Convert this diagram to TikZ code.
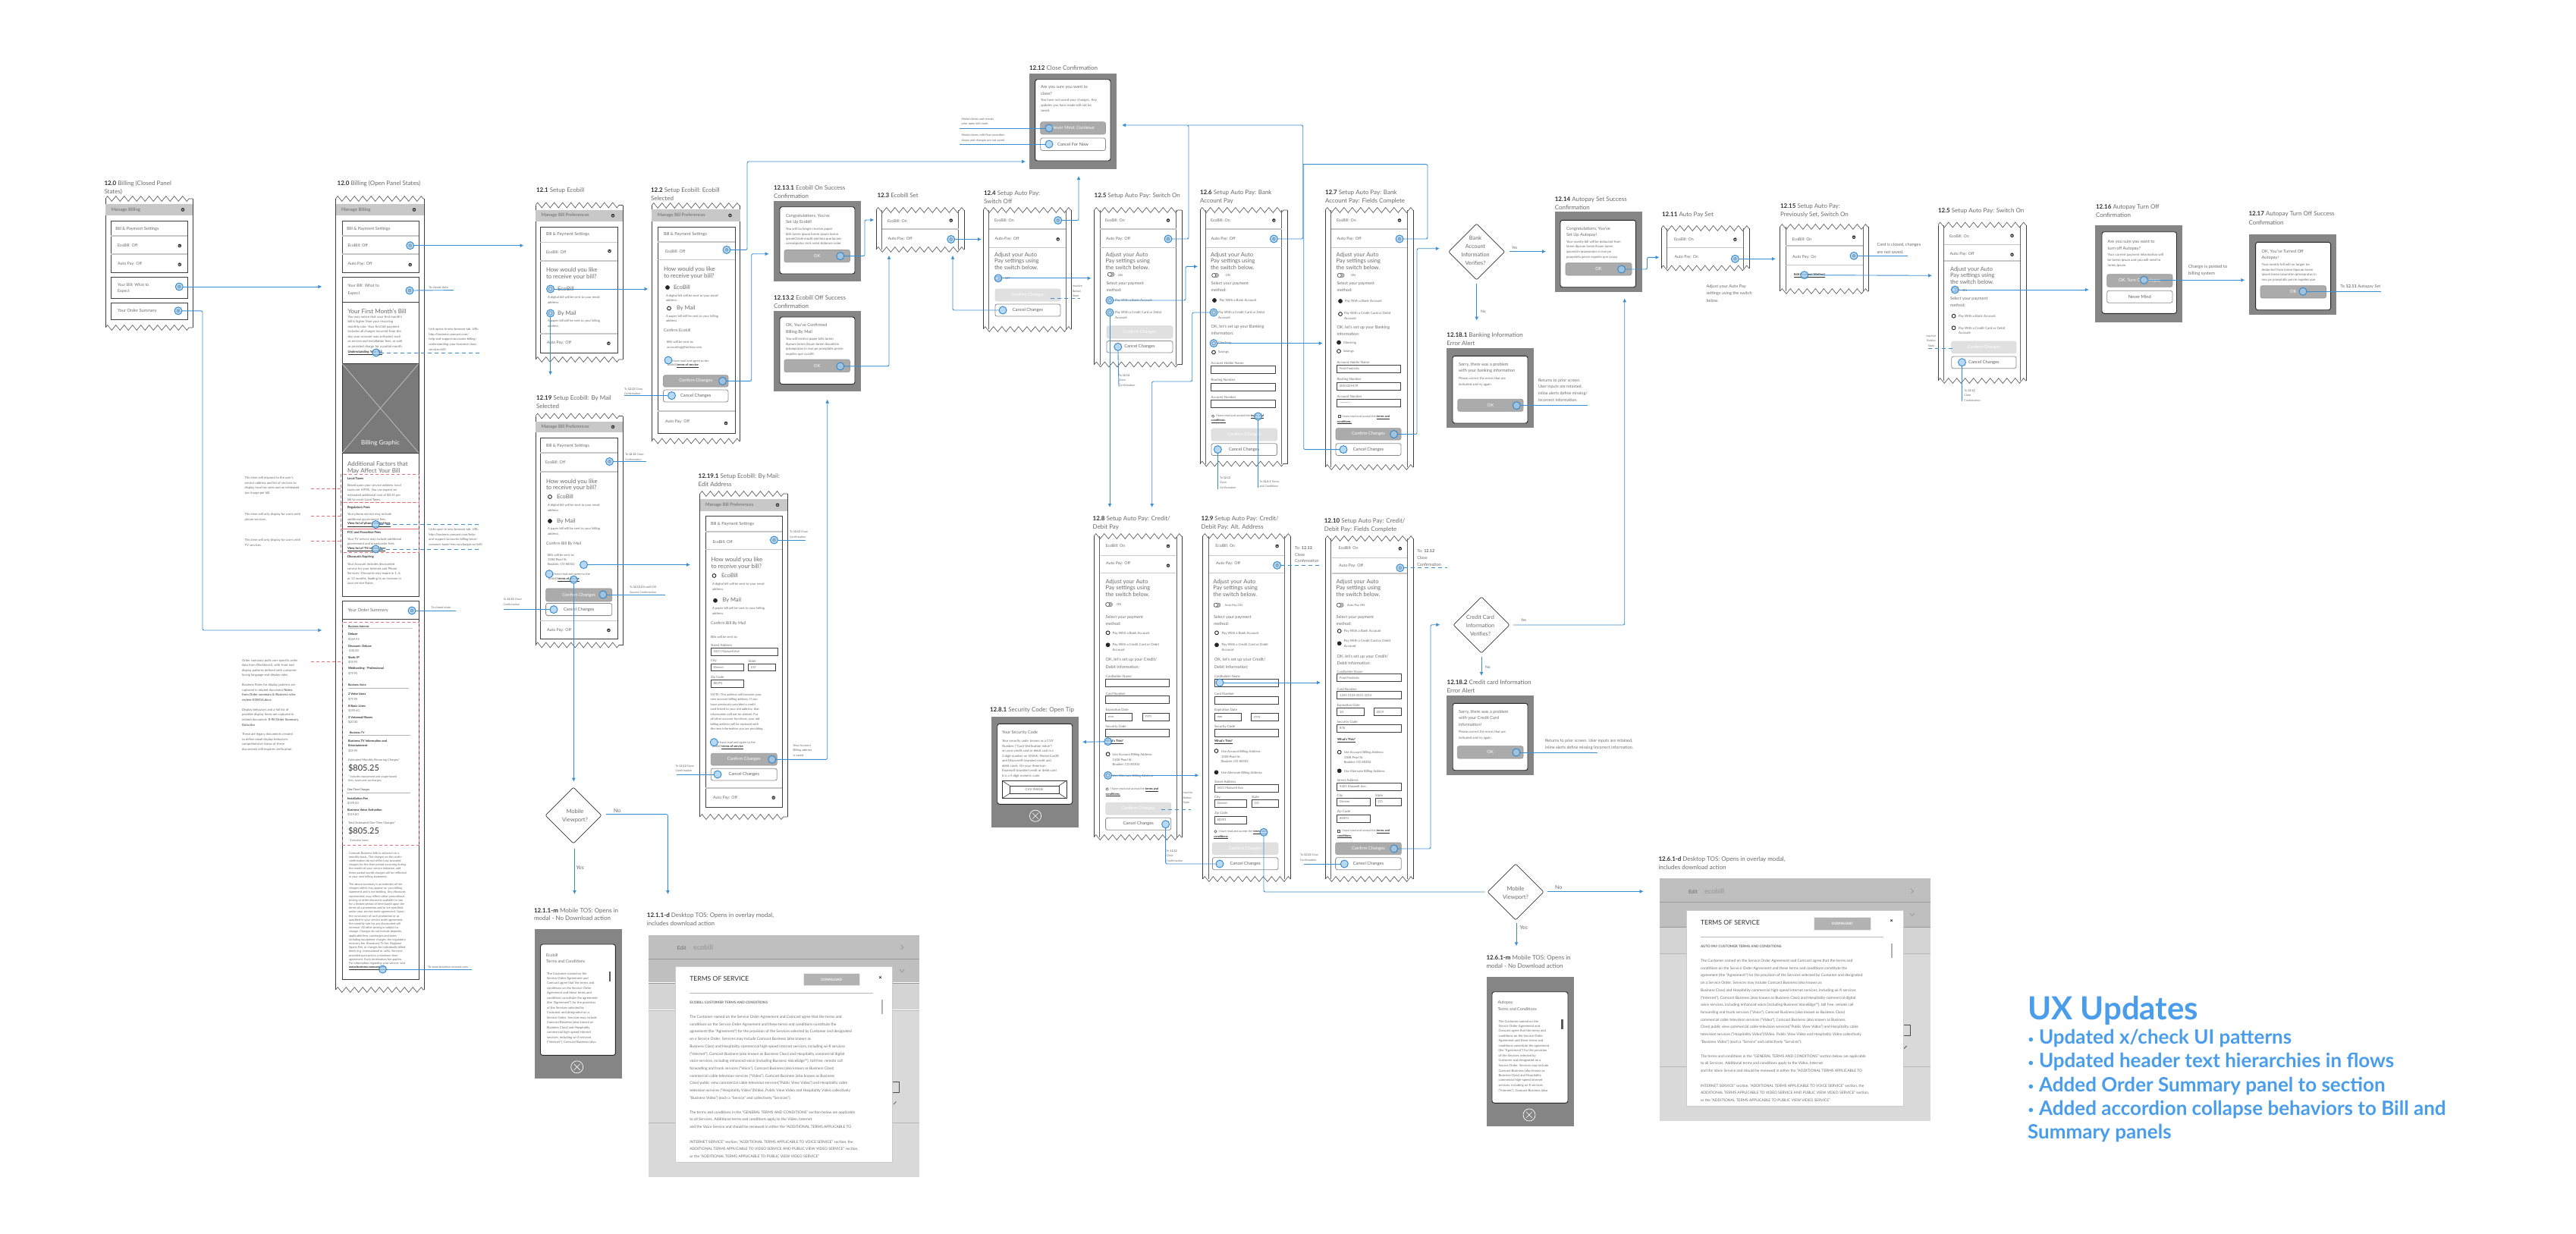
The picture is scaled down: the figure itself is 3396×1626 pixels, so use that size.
\documentclass[tikz,border=0pt]{standalone}
\usepackage{fontspec}
\setmainfont{Lato}
\usetikzlibrary{arrows.meta,shapes.geometric,decorations.pathmorphing}
\definecolor{tgrey}{HTML}{6A6A6A}
\definecolor{tdark}{HTML}{2E2E2E}
\definecolor{conblue}{HTML}{3A8FD3}
\definecolor{hotf}{HTML}{9CCBF0}
\definecolor{hotb}{HTML}{2F86CC}
\definecolor{redd}{HTML}{E8707E}
\definecolor{band}{HTML}{C8C8C8}
\definecolor{modalg}{HTML}{858585}
\definecolor{uxblue}{HTML}{4A9DEA}
\tikzset{
 txt/.style={anchor=west,inner sep=0pt,outer sep=0pt,text=tgrey},
 dk/.style={anchor=west,inner sep=0pt,outer sep=0pt,text=tdark},
 ctr/.style={anchor=center,inner sep=0pt,outer sep=0pt,text=tgrey,align=center},
 ctw/.style={anchor=center,inner sep=0pt,outer sep=0pt,text=white,align=center},
 ctg/.style={anchor=center,inner sep=0pt,outer sep=0pt,text=tgrey!90!black},
 ux/.style={anchor=west,inner sep=0pt,outer sep=0pt,text=uxblue},
 hotspot/.style={circle,draw=hotb,fill=hotf,fill opacity=.72,line width=.9pt,minimum size=10pt,inner sep=0pt,outer sep=0pt},
 conn/.style={draw=conblue,line width=.9pt,rounded corners=2pt},
 arr/.style={conn,-{Latex[length=5pt,width=5pt]}},
 dashb/.style={draw=conblue,line width=.8pt,dash pattern=on 5pt off 4pt},
 dashr/.style={draw=redd,line width=.8pt,dash pattern=on 4pt off 3pt},
 paper/.style={draw=black!75,line width=.6pt},
 inwall/.style={draw=black!60,line width=.9pt},
 zig/.style={draw=black!70,line width=.6pt,decorate,decoration={zigzag,amplitude=3.4pt,segment length=11pt}},
 cardb/.style={draw=black!75,line width=.9pt,fill=white},
 divider/.style={draw=black!22,line width=1.2pt},
 btnd/.style={draw=black!40,fill=black!33,line width=.7pt,rounded corners=2.5pt},
 btnl/.style={draw=black!14,fill=black!12,line width=.7pt,rounded corners=2.5pt},
 btnw/.style={draw=black!45,fill=white,line width=.8pt,rounded corners=2.5pt},
 fldb/.style={draw=black!75,line width=.8pt,fill=white},
 dia/.style={diamond,draw=black!80,line width=.7pt,minimum width=74pt,minimum height=74pt,aspect=1,inner sep=0pt,outer sep=0pt,rounded corners=2pt},
}
\newcount\nodeid
\newcommand{\wT}[5][txt]{\global\advance\nodeid by 1\relax\node[#1,font=\fontsize{#4}{#4}\selectfont] (t\the\nodeid) at ({#2},{#3}) {#5};}
\newcommand{\wL}[6][txt]{\foreach \wline [count=\wci from 0] in {#6}{\wT[#1]{#2}{#3+\wci*#4}{#5}{\wline}}}
\newcommand{\wTtl}[5]{\wT{#1}{#2}{8}{{\bfseries\color{tdark}#3} #4}\wT{#1}{#2+11}{8}{#5}}
\newcommand{\wTorn}[4]{\draw[paper] (#1,#3) -- (#1,#4);\draw[paper] (#2,#3) -- (#2,#4);\draw[zig] (#1,#3) -- (#2,#3);\draw[zig] (#1,#4) -- (#2,#4);}
\newcommand{\wDbl}[4]{\wTorn{#1}{#2}{#3}{#4}\draw[inwall] (#1+7.5,#3) -- (#1+7.5,#4);\draw[inwall] (#2-7.5,#3) -- (#2-7.5,#4);}
\newcommand{\wCard}[4]{\draw[cardb] (#1,#2) rectangle (#3,#4);}
\newcommand{\wChev}[2]{\fill[black!85] (#1,#2) circle (2.3);\draw[white,line width=.5pt] (#1-1.2,#2-.4) -- (#1,#2+.8) -- (#1+1.2,#2-.4);}
\newcommand{\wHdr}[5]{\pgfmathsetmacro\wmh{(#3+#4)/2}\fill[band] (#1,#3) rectangle (#2,#4);\wT{#1+7.5}{\wmh}{6}{#5}\wChev{#2-13}{\wmh}}
\newcommand{\wHot}[3]{\node[hotspot] (#1) at (#2,#3) {};}
\newcommand{\wHr}[3]{\draw[divider] (#1,#3) -- (#2,#3);}
\newcommand{\wBtn}[7]{\pgfmathsetmacro\wmx{(#3+#5)/2}\pgfmathsetmacro\wmy{(#4+#6)/2}\draw[#1] (#3,#4) rectangle (#5,#6);\wT[#2]{\wmx}{\wmy}{5.8}{#7}}
\newcommand{\wBtnD}[5]{\wBtn{btnd}{ctw}{#1}{#2}{#3}{#4}{#5}}
\newcommand{\wBtnL}[5]{\wBtn{btnl}{ctw}{#1}{#2}{#3}{#4}{#5}}
\newcommand{\wBtnW}[5]{\wBtn{btnw}{ctg}{#1}{#2}{#3}{#4}{#5}}
\newcommand{\wRad}[2]{\draw[black!85,line width=.9pt,fill=white] (#1,#2) circle (2.4);}
\newcommand{\wRadOn}[2]{\draw[black!85,line width=.9pt,fill=black!85] (#1,#2) circle (2.4);}
\newcommand{\wFld}[6]{\wT{#1}{#2-3.3}{4.4}{#5}\draw[fldb] (#1,#2) rectangle (#3,#4);\wT{#1+3.5}{(#2+#4)/2}{4.2}{#6}}
\newcommand{\wTog}[2]{\draw[black!55,fill=black!28,line width=.4pt,rounded corners=2.4pt] (#1-4.5,#2-2.6) rectangle (#1+4.5,#2+2.6);\draw[black!70,fill=white,line width=.5pt] (#1-1.8,#2) circle (2.5);}
\newcommand{\wModal}[8]{\fill[modalg] (#1,#2) rectangle (#3,#4);\draw[black!85,line width=.9pt,fill=white,rounded corners=3pt] (#5,#6) rectangle (#7,#8);}
\newcommand{\wAdj}[2]{\wL{#1}{#2}{8.6}{7.5}{{Adjust your Auto},{Pay settings using},{the switch below.}}}
\newcommand{\wHow}[2]{\wL{#1}{#2}{8.8}{7.8}{{How would you like},{to receive your bill?}}}
\newcommand{\wCloseX}[3]{\draw[white,line width=.7pt] (#1,#2) circle (#3);\draw[white,line width=.6pt] (#1-#3*.5,#2-#3*.5) -- (#1+#3*.5,#2+#3*.5);\draw[white,line width=.6pt] (#1-#3*.5,#2+#3*.5) -- (#1+#3*.5,#2-#3*.5);}
\newcommand{\wDia}[3]{\node[dia] (#1) at (#2,#3) {};}
\newcommand{\wC}[3]{\coordinate (#1) at (#2,#3);}
\newcommand{\wBul}{\makebox[15pt][l]{\fontsize{15}{15}\selectfont\raisebox{1.5pt}{•}}}
\newcommand{\wTos}[2]{%
\wL[dk]{#1}{#2}{9.72}{4.9}{{\color{tgrey}The Customer named on the Service Order Agreement and Comcast agree that the terms and},{\color{tgrey}conditions on the Service Order Agreement and these terms and conditions constitute the},{\color{tgrey}agreement (the "Agreement") for the provision of the Services selected by Customer and designated},{\color{tgrey}on a Service Order. Services may include Comcast Business (also known as},{\color{tgrey}Business Class) and Hospitality commercial high-speed internet services, including wi-fi services},{\color{tgrey}("Internet"), Comcast Business (also known as Business Class) and Hospitality commercial digital},{\color{tgrey}voice services, including enhanced voice (including Business VoiceEdge™), toll free, remote call},{\color{tgrey}forwarding and trunk services ("Voice"), Comcast Business (also known as Business Class)},{\color{tgrey}commercial cable television services ("Video"), Comcast Business (also known as Business},{\color{tgrey}Class) public view commercial cable television services("Public View Video") and Hospitality cable},{\color{tgrey}television services ("Hospitality Video")(Video, Public View Video and Hospitality Video collectively},{\color{tgrey}"Business Video") (each a "Service" and collectively "Services").}}
\wL[dk]{#1}{#2+125.8}{9.6}{4.9}{{\color{tgrey}The terms and conditions in the "GENERAL TERMS AND CONDITIONS" section below are applicable},{\color{tgrey}to all Services. Additional terms and conditions apply to the Video, Internet},{\color{tgrey}and the Voice Service and should be reviewed in either the "ADDITIONAL TERMS APPLICABLE TO}}
\wL[dk]{#1}{#2+164.7}{9.5}{4.9}{{\color{tgrey}INTERNET SERVICE" section, "ADDITIONAL TERMS APPLICABLE TO VOICE SERVICE" section, the},{\color{tgrey}ADDITIONAL TERMS APPLICABLE TO VIDEO SERVICE AND PUBLIC VIEW VIDEO SERVICE" section,},{\color{tgrey}or the "ADDITIONAL TERMS APPLICABLE TO PUBLIC VIEW VIDEO SERVICE"}}}
\newcommand{\wTosM}[2]{\wL{#1}{#2}{6.5}{4.2}{{The Customer named on the},{Service Order Agreement and},{Comcast agree that the terms and},{conditions on the Service Order},{Agreement and these terms and},{conditions constitute the agreement},{(the "Agreement") for the provision},{of the Services selected by},{Customer and designated on a},{Service Order. Services may include},{Comcast Business (also known as},{Business Class) and Hospitality},{commercial high-speed internet},{services, including wi-fi services},{("Internet"), Comcast Business (also}}}
\begin{document}
\begin{tikzpicture}[x=1pt,y=-1pt]
\useasboundingbox (0,0) rectangle (3396,1626);
\fill[white] (0,0) rectangle (3396,1626);

%%%%%% 12.0 closed
\wTtl{137.5}{242}{12.0}{Billing (Closed Panel}{States)}
\wTorn{139}{254}{262}{432}
\wHdr{139}{254}{269}{284}{Manage Billing}
\wCard{146}{291.5}{247}{359}
\wHr{146}{247}{311}\wHr{146}{247}{335}
\wT{152.4}{301.8}{5.6}{Bill \& Payment Settings}
\wT{155}{323.7}{5.3}{EcoBill: Off}\wChev{236.8}{324}
\wT{155}{347.8}{5.3}{Auto Pay: Off}\wChev{236.8}{348.7}
\wCard{146}{365}{247}{393}
\wL{155}{375.4}{8.8}{5.3}{{Your Bill: What to},{Expect}}
\wChev{236.3}{378}\wHot{hca}{236.3}{378}
\wCard{146}{399.5}{247}{421}
\wT{155}{409.8}{5.6}{Your Order Summary}
\wChev{235}{409.8}\wHot{hcb}{235}{409.8}

%%%%%% 12.0 open
\wTtl{444.7}{242}{12.0}{Billing (Open Panel States)}{}
\wTorn{442.5}{559}{262}{1305}
\wHdr{442.5}{559}{269}{284}{Manage Billing}
\wCard{451}{291.5}{552}{359}
\wHr{451}{552}{311}\wHr{451}{552}{335}
\wT{457.4}{301.8}{5.6}{Bill \& Payment Settings}
\wT{458.5}{323.7}{5.3}{EcoBill: Off}\wChev{540.7}{323.7}\wHot{hoe}{540.7}{323.7}
\wT{458.5}{347.8}{5.3}{Auto Pay: Off}\wChev{540.7}{349}
\wCard{451}{365}{552}{786}
\draw[black!75,line width=.9pt] (451,398.7) -- (552,398.7);
\wL{458.5}{377}{9.6}{5.3}{{Your Bill: What to},{Expect}}
\wChev{540}{383}\wHot{hob}{540}{383}
\wT{458.5}{410}{8}{Your First Month's Bill}
\wL{458.5}{418}{6.5}{4.3}{{You may notice that your first month's},{bill is higher than your recurring},{monthly rate. Your first bill payment},{includes all charges incurred from the},{day your account was activated, such},{as service and installation fees, as well},{as prorated charge for a partial month.}}
\wT[dk]{458.5}{465}{4.3}{\underline{\textbf{Understanding Your Bill}}}
\wHot{hol}{495.8}{465}
\fill[black!52] (451,479.5) rectangle (552,597);
\draw[black!80,line width=.9pt] (451,479.5) rectangle (552,597);
\draw[white!85!black,line width=.5pt] (451,479.5) -- (552,597);
\draw[white!85!black,line width=.5pt] (552,479.5) -- (451,597);
\wT[ctw]{501.5}{584}{8}{Billing Graphic}
\wL{458}{612}{9}{8}{{Additional Factors that},{May Affect Your Bill}}
\draw[dashr] (449,625) rectangle (552,662.7);
\draw[dashr] (449,662.7) rectangle (552,697);
\draw[dashr] (449,697) rectangle (552,728);
\wT[dk]{458}{631}{4.2}{\textbf{Local Taxes}}
\wL{458}{640}{6.4}{4.2}{{Based upon your service address, local},{taxes are 4.99\%. You can expect an},{estimated additional cost of \$8.15 per},{bill to cover Local Taxes.}}
\wT[dk]{458}{669.7}{4.2}{\textbf{Regulatory Fees}}
\wL{458}{678.7}{6.4}{4.2}{{Your phone service may include},{additional government fees.}}
\wT[dk]{458}{691.7}{4.2}{\underline{\textbf{View list of phone related fees}}}
\wHot{hor}{495.3}{691.5}
\wT[dk]{458}{702}{4.2}{\textbf{FCC and Franchise Fees}}
\wL{458}{711}{6.6}{4.2}{{Your TV service may include additional},{government and broadcaster fees.}}
\wT[dk]{458}{724}{4.2}{\underline{\textbf{View list of TV related fees}}}
\wHot{hot}{495.3}{724}
\wT[dk]{458}{734.7}{4.2}{\textbf{Discounts Expiring}}
\wL{458}{743.7}{6.5}{4.2}{{Your Account includes discounted},{service for your Internet and Phone},{Services.  Discounts may expire in 1, 6,},{or 12 months, leading to an increase in},{your service Rates.}}
\wCard{451}{792.7}{552}{1291}
\draw[black!75,line width=.9pt] (451,816.7) -- (552,816.7);
\wT{458.5}{805}{5.8}{Your Order Summary}
\wChev{543}{805}\wHot{hoo}{543}{805}
\draw[dashr] (451,820) rectangle (552,1114);
\wT[dk]{459}{826}{3.6}{\textbf{Business Internet}}\wHr{459}{544}{828.8}
\wL[dk]{459}{836}{6.7}{4}{{\textbf{Deluxe}},{\color{tgrey}\$369.95}}
\wL[dk]{459}{851.7}{6.5}{4}{{\textbf{Discount: Deluxe}},{\color{tgrey}-\$30.00}}
\wL[dk]{459}{866.7}{6.5}{4}{{\textbf{Static IP}},{\color{tgrey}\$39.95}}
\wL[dk]{459}{881.7}{6.5}{4}{{\textbf{Webhosting - Professional}},{\color{tgrey}\$79.95}}
\wT[dk]{459}{903}{3.6}{\textbf{Business Voice}}\draw[black!30,line width=.5pt] (459,907.3) -- (539,907.3);
\wL[dk]{459}{915}{6.6}{4}{{\textbf{2 Voice Lines}},{\color{tgrey}\$79.90}}
\wL[dk]{459}{930.7}{6.4}{4}{{\textbf{8 Basic Lines}},{\color{tgrey}\$199.60}}
\wL[dk]{459}{945.7}{6.4}{4}{{\textbf{2 Voicemail Boxes}},{\color{tgrey}\$20.00}}
\wT[dk]{461}{966}{3.6}{\textbf{Business TV}}\draw[black!30,line width=.5pt] (459,969.3) -- (541,969.3);
\wL[dk]{459}{976.7}{6.6}{4}{{\textbf{Business TV Information and}},{\textbf{Entertainment}},{\color{tgrey}\$29.95}}
\wT{459}{1002}{4}{Estimated Monthly Recurring Charges*}
\wT[dk]{459}{1013}{11}{\$805.25}
\wL{459}{1024.6}{4.8}{3.8}{{* Includes equipment and usage-based},{fees, taxes and surcharges.}}
\wT[dk]{458}{1041}{3.6}{One Time Charges}\draw[black!30,line width=.6pt] (457,1045) -- (541,1045);
\wL[dk]{458}{1053}{6.4}{4}{{\textbf{Installation Fee}},{\color{tgrey}\$199.00}}
\wL[dk]{458}{1068}{6.4}{4}{{\textbf{Business Voice Activation}},{\color{tgrey}\$119.80}}
\wT{459}{1085}{4}{Total Estimated One-Time Charges*}
\wT[dk]{459}{1096}{11}{\$805.25}
\wT{459}{1108}{3.8}{* Excludes taxes}
\wL{460}{1125}{5.2}{3.9}{{Comcast Business bills in advance on a},{monthly basis.  The charges on this order},{confirmation do not reflect any prorated},{charges for the time period occurring during},{the month of your service initiation, and},{these partial month charges will be reflected},{in your next billing statement.}}
\wL{460}{1166.4}{5.2}{3.9}{{The above summary is an estimate of the},{charges which may appear on your billing},{statement and is not binding. Any discounts},{represented, may reflect other promotional},{pricing or other discounts available to you},{for a limited period of time based upon the},{terms of a promotion and/or are specified},{under your service order agreement.  Upon},{the conclusion of such promotion or as},{specified in your service order agreement,},{the monthly rate for any discounted will},{increase. All other pricing is subject to},{change. Charges do not include deposits,},{applicable fees, surcharges and taxes,},{including equipment charges, the regulatory},{recovery fee, Broadcast TV fee, Regional},{Sports Fee, or charges for individually billed},{items (e.g. international or calls).  Services},{provided pursuant to a minimum term},{agreement.  Early termination fee applies.},{For information regarding your service, visit}}
\wT[dk]{460}{1276}{3.9}{\underline{\textbf{www.business.comcast.com.}}}
\wHot{how}{504.5}{1278}
% left notes
\wL{322.7}{630.7}{6.5}{4.2}{{This item will respond to the user's},{service address and list of services to},{display local tax rates and an estimated},{tax charge per bill.}}
\wL{322.7}{678.7}{6.6}{4.2}{{This item will only display for users with},{phone services.}}
\wL{322.7}{712}{6.7}{4.2}{{This item will only display for users with},{TV services.}}
\wL{319}{871}{6.6}{4.2}{{Order summary pulls user-specific order},{data from Workbench, with front end},{display patterns defined with customer-},{facing language and display rules.}}
\wL{319}{903.7}{6.5}{4.2}{{Business Rules for display patterns are},{captured in related document \textbf{Notes}},{\textbf{from Order summary \& Business rules}},{\textbf{review-030416.docx}}}
\wL{319}{936}{6.5}{4.2}{{Display behaviors and a full list of},{possible display items are captured in},{related document: \textbf{0-90 Order Summary}},{\textbf{Data.xlsx}}}
\wL{319}{968.7}{6.5}{4.2}{{These are legacy documents created},{to define email display behaviors;},{comprehensive status of these},{documents still requires verification.}}
% right notes
\wT{565.4}{378.6}{3.9}{To closed state}
\wL{565.4}{434.8}{6.5}{4.1}{{Link opens in new browser tab.  URL:},{http://business.comcast.com/},{help-and-support/accounts-billing/},{understanding-your-business-class-},{services-bill/}}
\wL{565.4}{698.6}{6.5}{4.1}{{Links open in new browser tab.  URL:},{http://business.comcast.com/help-},{and-support/accounts-billing/most-},{common-taxes-fees-surcharges-on-bill/}}
\wT{568.7}{801}{3.9}{To closed state}
\wT{564}{1275}{3.9}{To www.business.comcast.com}

%%%%%% 12.1
\wTtl{707}{251}{12.1}{Setup Ecobill}{}
\wTorn{706}{821}{270.5}{474}
\wHdr{706}{821}{277}{291.5}{Manage Bill Preferences}
\wCard{712}{299}{814}{465.6}
\wHr{712}{814}{319.6}\wHr{712}{814}{344}\wHr{712}{814}{440}
\wT{720}{309}{5.6}{Bill \& Payment Settings}
\wT{720}{332.6}{5.3}{EcoBill: Off}\wChev{803.5}{331}
\wHow{720}{356}
\wT{735}{381}{7.5}{EcoBill}\wRad{725.6}{381}\wHot{haa}{725.6}{381}
\wL{722}{392.4}{6.3}{4.2}{{A digital bill will be sent to your email},{address.}}
\wT{735}{413}{7.5}{By Mail}\wRad{725.6}{413}\wHot{hab}{725.6}{413}
\wL{722}{423}{7}{4.2}{{A paper bill will be sent to your billing},{address.}}
\wT{721}{452}{5.3}{Auto Pay: Off}\wChev{802.4}{452.7}

%%%%%% 12.2
\wTtl{858}{251}{12.2}{Setup Ecobill: Ecobill}{Selected}
\wTorn{859}{975.5}{271}{581.5}
\wHdr{859}{975.5}{276}{292}{Manage Bill Preferences}
\wCard{867}{299}{969}{571}
\wHr{867}{969}{319}\wHr{867}{969}{342.4}\wHr{867}{969}{542}
\wT{875}{308.6}{5.6}{Bill \& Payment Settings}
\wT{877}{331.4}{5.3}{EcoBill: Off}\wChev{958}{329.4}\wHot{hbe}{958}{329.4}
\wHow{875}{355}
\wRadOn{880}{379}\wT{888}{379}{7.5}{EcoBill}
\wL{878}{390}{6.3}{4.2}{{A digital bill will be sent to your email},{address.}}
\wRad{882}{406.5}\wT{892}{406.5}{7.5}{By Mail}
\wL{878}{417}{6.2}{4.2}{{A paper bill will be sent to your billing},{address.}}
\wT{875}{435.5}{5.3}{Confirm Ecobill}
\wL{879}{451.4}{6.6}{4.2}{{Bills will be sent to:},{accounting@herlson.com}}
\wT{885.5}{476}{4}{I have read and agree to the}
\wT[dk]{880}{482.5}{4}{{\color{tgrey}Ecobill }\underline{\textbf{terms of service}}}
\wHot{hbk}{881}{475}
\wBtnD{874.5}{494.7}{960}{510}{Confirm Changes}\wHot{hbc}{952.5}{502.4}
\wBtnW{874.5}{514}{960}{530}{Cancel Changes}\wHot{hbx}{885.5}{521.6}
\wT{877}{556.3}{5.3}{Auto Pay: Off}\wChev{957}{558}
\wL{823}{512.7}{6.5}{3.7}{{To \textbf{12.12} Close},{Confirmation}}

%%%%%% 12.19
\wTtl{707}{525}{12.19}{Setup Ecobill: By Mail}{Selected}
\wTorn{706}{821}{548.5}{850.5}
\wHdr{706}{821}{556}{569.6}{Manage Bill Preferences}
\wCard{712}{577}{814}{842}
\wHr{712}{814}{597}\wHr{712}{814}{622}\wHr{712}{814}{818.7}
\wT{720}{587.5}{5.6}{Bill \& Payment Settings}
\wT{719}{609.4}{5.3}{EcoBill: Off}\wChev{803.5}{608.5}\wHot{hse}{803.5}{608.5}
\wHow{720}{634.8}
\wRad{725}{655}\wT{734}{655}{7.5}{EcoBill}
\wL{722}{666}{6.8}{4.2}{{A digital bill will be sent to your email},{address.}}
\wRadOn{725}{687}\wT{734}{687}{7.5}{By Mail}
\wL{722}{697.8}{6.3}{4.2}{{A paper bill will be sent to your billing},{address.}}
\wT{720}{717.4}{5.3}{Confirm Bill By Mail}
\wL{722}{731.7}{6.5}{4.2}{{Bills will be sent to:},{1508 Pearl St.},{Boulder, CO 80302}}
\wHot{hsp}{769.5}{744.6}
\wT{729}{757}{4}{I have read and agree to the}
\wT[dk]{723}{763.8}{4}{{\color{tgrey}Ecobill }\underline{\textbf{terms of service}}}
\wHot{hsk}{724}{756.7}\wHot{hst}{756.3}{764.3}
\wBtnD{719.6}{775.9}{806.8}{792.9}{Confirm Changes}\wHot{hsc}{795}{784}
\wBtnW{719.6}{795.5}{806.8}{811.6}{Cancel Changes}\wHot{hsx}{730}{803.6}
\wT{721}{831}{5.3}{Auto Pay: Off}\wChev{802.4}{831}
\wL{824.3}{598.7}{7}{3.7}{{To \textbf{12.12} Close},{Confirmation}}
\wL{830}{773.7}{7}{3.7}{{To \textbf{12.13.2} Ecobill Off},{Success Confirmation}}
\wL{663.6}{790.6}{6.7}{3.7}{{To \textbf{12.12} Close},{Confirmation}}

%%%%%% 12.19.1
\wTtl{920.6}{627.8}{12.19.1}{Setup Ecobill: By Mail:}{Edit Address}
\wTorn{922.7}{1038}{651}{1077}
\wHdr{922.7}{1038}{658}{673.5}{Manage Bill Preferences}
\wCard{930}{680.4}{1031}{1064.3}
\wHr{930}{1031}{701}\wHr{930}{1031}{724.5}\wHr{930}{1031}{1039}
\wT{937}{690.6}{5.6}{Bill \& Payment Settings}
\wT{939.5}{715}{5.3}{EcoBill: Off}\wChev{1020.5}{712}\wHot{hte}{1020.5}{712}
\wHow{937.5}{738}
\wRad{941.5}{759}\wT{951}{759}{7.5}{EcoBill}
\wL{939}{770.6}{6.4}{4.2}{{A digital bill will be sent to your email},{address.}}
\wRadOn{943}{791.8}\wT{952.5}{791.8}{7.5}{By Mail}
\wL{939}{802.4}{6.2}{4.2}{{A paper bill will be sent to your billing},{address.}}
\wT{937}{822.4}{5.3}{Confirm Bill By Mail}
\wT{937}{840}{4.2}{Bills will be sent to:}
\wFld{937}{854.6}{1025}{864}{Street Address}{5421 Maxwell Ave}
\wFld{937}{875}{980}{884}{City}{Denver}
\wFld{986.7}{875}{1022.3}{884}{State}{CO}
\wFld{937}{896.8}{980}{906}{Zip Code}{80391}
\wL{936.7}{916}{6.5}{4.1}{{NOTE: This address will become your},{new account billing address. If you},{have previously provided a credit},{card linked to your old address, that},{information will not be altered.  For},{all other account functions, your old},{billing address will be replaced with},{the new information you are providing.}}
\wT{947}{979}{4}{I have read and agree to the}
\wT[dk]{939}{985}{4}{{\color{tgrey}Ecobill }\underline{\textbf{terms of service}}}
\wHot{htk}{941.3}{978.7}
\wBtnD{937.3}{993.3}{1024.3}{1009}{Confirm Changes}\wHot{htc}{1017.7}{1001.3}
\wBtnW{937.3}{1013.3}{1024.3}{1029}{Cancel Changes}\wHot{htx}{946}{1021}
\wT{940}{1051.7}{5.3}{Auto Pay: Off}\wChev{1019.7}{1051.7}
\wL{1041}{700.8}{7}{3.7}{{To \textbf{12.12} Close},{Confirmation}}
\wL{1045.7}{983.3}{6.4}{3.9}{{New Account},{Billing address},{is saved.}}
\wL{890.7}{1010}{6}{3.7}{{To \textbf{12.12} Close},{Confirmation}}

%%%%%% 12.13.1
\wTtl{1020}{247.8}{12.13.1}{Ecobill On Success}{Confirmation}
\wModal{1020}{265}{1135}{370.6}{1028}{272.7}{1127}{361}
\wL{1036}{284.5}{8.1}{5.6}{{Congratulations, You've},{Set Up Ecobill}}
\wL{1036}{302.4}{6.4}{4.4}{{You will no longer receive paper},{bills lorem ipsum lorem ipsum lorem},{ipsumOvide modit ipid bea que lacons},{consutpiatur reris volut dolorum volor}}
\wBtnD{1034}{329.4}{1120.4}{345.7}{OK}\wHot{hma}{1107.8}{337.6}

%%%%%% 12.13.2
\wTtl{1020}{393}{12.13.2}{Ecobill Off Success}{Confirmation}
\wModal{1020}{410}{1135}{516}{1028}{418}{1127}{506.5}
\wL{1036}{429}{8.6}{5.6}{{OK, You've Confirmed},{Billing By Mail}}
\wL{1036}{447.3}{6.5}{4.4}{{You will recieve paper bills lorem},{ibpsum lorem ibsum lorem ibsumUm},{iptraepratus in non pe praeptatis percie},{expeles que cusaM.}}
\wBtnD{1034}{474}{1120.4}{490.6}{OK}\wHot{hmb}{1107.8}{482.9}

%%%%%% 12.3
\wTtl{1156.5}{258}{12.3}{Ecobill Set}{}
\wDbl{1155}{1271}{277}{329}
\wT{1170}{291.4}{5.3}{EcoBill: On}\wChev{1253.7}{290.6}
\wHr{1162.5}{1263.5}{302}
\wT{1170.5}{315.5}{5.3}{Auto Pay: Off}\wChev{1253.7}{315.5}\wHot{hce}{1253.7}{315.5}

%%%%%% 12.4
\wTtl{1297}{255}{12.4}{Setup Auto Pay:}{Switch Off}
\wDbl{1296}{1412.5}{277}{434}
\wT{1311}{291}{5.3}{EcoBill: On}\wChev{1394.7}{290.5}\wHot{hde}{1394.7}{290.5}
\wHr{1304}{1405}{302}
\wT{1311.5}{315}{5.3}{Auto Pay: Off}\wChev{1394.7}{315.4}
\wHr{1304}{1405}{326.5}
\wAdj{1311}{336}
\wTog{1316}{366.8}\wT{1325}{367}{4}{OFF}\wHot{hdo}{1316}{366.8}
\wBtnL{1312}{381}{1398}{397}{Confirm Changes}
\wBtnW{1312}{401}{1398}{417}{Cancel Changes}\wHot{hdx}{1322}{409}
\wL{1414}{377.5}{6.3}{3.7}{{Inactive},{Button},{State}}

%%%%%% 12.12
\wTtl{1357}{90}{12.12}{Close Confirmation}{}
\wModal{1357}{97}{1472}{223}{1364.6}{104.7}{1464}{212}
\wL{1372}{114.6}{8.6}{5.6}{{Are you sure you want to},{close?}}
\wL{1372}{132.4}{6.5}{4.4}{{You have not saved your changes. Any},{updates you have made will not be},{saved.}}
\wBtnD{1371.7}{160.8}{1457.4}{177}{Never Mind, Continue}\wHot{hna}{1383}{169}
\wBtnW{1371.7}{182}{1457.4}{198.4}{Cancel For Now}\wHot{hnb}{1383}{190}
\wL{1267.6}{157}{6.2}{3.9}{{Modal closes and reveals},{prior open edit state.}}
\wL{1267.6}{178}{7}{3.9}{{Modal closes, edit flow accordion},{closes and changes are not saved.}}

%%%%%% 12.5
\wTtl{1442.6}{258}{12.5}{Setup Auto Pay: Switch On}{}
\wDbl{1442.6}{1558}{277}{480.5}
\wT{1457}{291}{5.3}{EcoBill: On}\wChev{1540}{290.5}
\wHr{1450}{1551}{302}
\wT{1458}{315}{5.3}{Auto Pay: Off}\wChev{1540}{315}\wHot{hee}{1540}{315}
\wHr{1450}{1551}{326.5}
\wAdj{1457.5}{336}
\wTog{1464.6}{361.7}\wT{1474}{363}{4}{ON}
\wL{1458.5}{373.6}{8.6}{5.5}{{Select your payment},{method:}}
\wRad{1463}{396}\wT{1470}{396}{4.4}{Pay With a Bank Account}\wHot{heb}{1463}{396}
\wRad{1463}{412}\wL{1470}{412}{6.6}{4.4}{{Pay With a Credit Card or Debit},{Account}}\wHot{hec}{1463}{412}
\wBtnL{1459}{429.7}{1546}{446}{Confirm Changes}
\wBtnW{1459}{449.5}{1546}{465}{Cancel Changes}\wHot{hex}{1473.8}{457.4}
\wL{1475}{495}{6.5}{3.7}{{To \textbf{12.12}},{Close},{Confirmation}}

%%%%%% 12.6
\wTtl{1582}{254}{12.6}{Setup Auto Pay: Bank}{Account Pay}
\wDbl{1582}{1697}{277}{611.5}
\wT{1596}{291}{5.3}{EcoBill: On}\wChev{1679.4}{290.5}
\wHr{1589.5}{1689.5}{302}
\wT{1596.5}{315}{5.3}{Auto Pay: Off}\wChev{1679.4}{315}\wHot{hfe}{1679.4}{315}
\wHr{1589.5}{1689.5}{326.5}
\wAdj{1596}{336}
\wTog{1602}{363}\wT{1615.6}{363}{4}{ON}
\wL{1596.7}{373.6}{8.6}{5.5}{{Select your payment},{method:}}
\wRadOn{1601}{396}\wT{1607.5}{396}{4.4}{Pay With a Bank Account}
\wRad{1600}{412}\wL{1606}{412}{6.6}{4.4}{{Pay With a Credit Card or Debit},{Account}}\wHot{hfc}{1600}{412}
\wL{1596.7}{430.5}{8.6}{5.5}{{OK, let's set up your Banking},{information:}}
\wRad{1600}{452.6}\wT{1606}{452.6}{4.2}{Checking}\wHot{hfk}{1600}{452.6}
\wRad{1600}{464.5}\wT{1606}{464.5}{4.2}{Savings}
\wFld{1596.7}{482}{1681.4}{492.6}{Account Holder Name}{}
\wFld{1596.7}{505}{1681.4}{515}{Routing Number}{}
\wFld{1596.7}{527.4}{1681.4}{537}{Account Number}{}
\draw[black!70,line width=.5pt] (1599,548.7) circle (1.7);
\wT[dk]{1603}{549}{3.9}{{\color{tgrey}I have read and accept the }\underline{\textbf{terms and}}}
\wT[dk]{1596.7}{555.5}{3.9}{\underline{\textbf{conditions.}}}
\wHot{hft}{1658.5}{549}
\wBtnL{1597}{565}{1683.5}{581}{Confirm Changes}
\wBtnW{1597}{584.7}{1683.5}{600.5}{Cancel Changes}\wHot{hfx}{1605.4}{592.6}
\wL{1608}{630}{6.5}{3.7}{{To \textbf{12.12}},{Close},{Confirmation}}
\wL{1660.5}{635}{6.5}{3.7}{{To \textbf{12.6.1} Terms},{and Conditions}}

%%%%%% 12.7
\wTtl{1747}{254}{12.7}{Setup Auto Pay: Bank}{Account Pay: Fields Complete}
\wDbl{1747}{1863}{277}{616}
\wT{1762}{291}{5.3}{EcoBill: On}\wChev{1845}{290.5}
\wHr{1755}{1855}{302}
\wT{1762.5}{315}{5.3}{Auto Pay: Off}\wChev{1845}{315}\wHot{hge}{1845}{315}
\wHr{1755}{1855}{326.5}
\wAdj{1761.5}{336}
\wTog{1767.6}{363}\wT{1781}{363}{4}{ON}
\wL{1762.5}{373.6}{8.6}{5.5}{{Select your payment},{method:}}
\wRadOn{1767}{397}\wT{1773}{397}{4.4}{Pay With a Bank Account}
\wRad{1767}{414}\wL{1772}{413}{6.7}{4.4}{{Pay With a Credit Card or Debit},{Account}}
\wL{1762.5}{431.7}{8.7}{5.5}{{OK, let's set up your Banking},{information:}}
\wRadOn{1765}{451.5}\wT{1771}{452}{4.2}{Checking}
\wRad{1765}{463}\wT{1771}{463}{4.2}{Savings}
\wFld{1762.5}{481}{1846.7}{491}{Account Holder Name}{Fred Fredricks}
\wFld{1762.5}{504}{1846.7}{514}{Routing Number}{0053329479}
\wFld{1762.5}{526.6}{1846.7}{536.5}{Account Number}{********}
\draw[black!70,line width=.5pt] (1764,547.5) rectangle (1767,550.5);
\wT[dk]{1769}{550}{3.9}{{\color{tgrey}I have read and accept the }\underline{\textbf{terms and}}}
\wT[dk]{1762.5}{556.6}{3.9}{\underline{\textbf{conditions.}}}
\wBtnD{1761}{564.6}{1847}{580}{Confirm Changes}\wHot{hgc}{1837.6}{572.5}
\wBtnW{1761}{584.7}{1847}{600.5}{Cancel Changes}\wHot{hgx}{1771}{592.6}

%%%%%% Bank diamond
\wDia{dbank}{1946.7}{332}
\wL[ctr]{1945}{314}{11}{7.3}{{Bank},{Account},{Information},{Verifies?}}
\wT{1993}{327}{5}{Yes}
\wT{1952}{410.7}{5}{No}

%%%%%% 12.18.1
\wTtl{1907.4}{442}{12.18.1}{Banking Information}{Error Alert}
\wModal{1907.4}{459}{2022}{564.3}{1915}{469.3}{2014}{558}
\wL{1923}{480.7}{8.6}{5.6}{{Sorry, there was a problem},{with your banking information}}
\wL{1923}{499}{8}{4.3}{{Please correct the errors that are},{indicated and try again.}}
\wBtnD{1921.8}{526.3}{2008}{542.3}{OK}\wHot{hha}{1999.3}{534.7}
\wL{2028}{501.7}{8.7}{5.4}{{Returns to prior screen.},{User inputs are retained,},{inline alerts define missing/},{incorrect information.}}

%%%%%% 12.14
\wTtl{2049.8}{263}{12.14}{Autopay Set Success}{Confirmation}
\wModal{2049.8}{279.3}{2164.6}{385}{2057}{290.3}{2156.5}{378.7}
\wL{2065}{301.7}{8.6}{5.6}{{Congratulations, You've},{Set Up Autopay!}}
\wL{2065}{319}{6.7}{4.3}{{Your montly bill will be deducted from},{lorem ibpsum lorem ibsum lorem},{ipsumUm ipsaepratus in non pe},{praeptatis percie expeles que cusap}}
\wBtnD{2064}{346.7}{2151}{363}{OK}\wHot{hia}{2137.6}{355}

%%%%%% 12.11
\wTtl{2191}{283}{12.11}{Auto Pay Set}{}
\wDbl{2190}{2306}{301}{353.5}
\wT{2207}{315.3}{5.3}{EcoBill: On}\wChev{2287.4}{315.7}
\wHr{2198}{2298}{326.7}
\wT{2207.5}{339.3}{5.3}{Auto Pay: On}\wChev{2287.4}{341.3}\wHot{hja}{2287.4}{341.3}
\wL{2249.5}{378.3}{8.9}{5.6}{{Adjust your Auto Pay},{settings using the switch},{below.}}

%%%%%% 12.15
\wTtl{2347}{272.3}{12.15}{Setup Auto Pay:}{Previously Set, Switch On}
\wDbl{2346.6}{2463.7}{299}{384}
\wT{2362.6}{315.3}{5.3}{EcoBill: On}\wChev{2444}{312.7}
\wHr{2354}{2456}{324}
\wT{2363}{339.3}{5.3}{Auto Pay: On}\wChev{2444}{337.3}\wHot{hka}{2444}{337.3}
\wHr{2354}{2456}{349.3}
\wT[dk]{2365}{363.3}{4.2}{\underline{\textbf{Edit Payment Method}}}\wHot{hkb}{2378.7}{362.7}
\wL{2474.6}{323.3}{9}{5.7}{{Card is closed, changes},{are not saved.}}

%%%%%% 12.5 second
\wTtl{2555}{278.3}{12.5}{Setup Auto Pay: Switch On}{}
\wDbl{2555}{2671}{296.5}{502}
\wT{2570}{311.3}{5.3}{EcoBill: On}\wChev{2652.5}{310.7}
\wHr{2563}{2663}{322.3}
\wT{2570.5}{335.3}{5.3}{Auto Pay: Off}\wChev{2652.5}{335.7}
\wHr{2563}{2663}{344}
\wAdj{2571}{355}
\wTog{2577.3}{382}\wT{2587}{383}{4}{ON}\wHot{hla}{2577.3}{382}
\wL{2571}{394}{8.7}{5.5}{{Select your payment},{method:}}
\wRad{2575.6}{416.7}\wT{2582}{417}{4.4}{Pay With a Bank Account}
\wRad{2575.6}{432.3}\wL{2582}{433}{6.2}{4.4}{{Pay With a Credit Card or Debit},{Account}}
\wBtnL{2572.7}{450}{2658}{465.7}{Confirm Changes}
\wBtnW{2572.7}{470}{2658}{485.7}{Cancel Changes}\wHot{hlx}{2586.5}{477.7}
\wL[ctr]{2546}{442.7}{6.5}{3.7}{{Inactive},{Button},{State}}
\wL{2589.4}{515}{6.5}{3.7}{{To \textbf{12.12}},{Close},{Confirmation}}

%%%%%% 12.16
\wTtl{2763}{273}{12.16}{Autopay Turn Off}{Confirmation}
\wModal{2762.4}{297.3}{2877}{424.7}{2771}{305.7}{2869.5}{413.3}
\wL{2778.7}{319}{8.7}{5.6}{{Are you sure you want to},{turn off Autopay?}}
\wL{2778.7}{336.7}{6.6}{4.4}{{Your current payment information will},{be lorem ipsum and you will need to},{lorem ipsum.}}
\wBtnD{2777.7}{361.7}{2864}{378.3}{OK, Turn Off Autopay}\wHot{hma2}{2826.4}{369.3}
\wBtnW{2777.7}{383.3}{2864}{399.3}{Never Mind}
\wL{2885}{352.3}{8.7}{5.9}{{Change is posted to},{billing system}}

%%%%%% 12.17
\wTtl{2964.5}{282.3}{12.17}{Autopay Turn Off Success}{Confirmation}
\wModal{2965}{309.3}{3080}{415}{2973.6}{319.3}{3072.6}{408.7}
\wL{2981.7}{331.3}{9}{5.6}{{OK, You've Turned Off},{Autopay!}}
\wL{2981.7}{349.3}{6.6}{4.4}{{Your montly bill will no longer be},{deducted from lorem ibpsum lorem},{ipsum lorem ipsumUm iptraepratus in},{non pe praeptatis percie expeles que}}
\wBtnD{2980}{376.7}{3066.5}{393}{OK}\wHot{hna2}{3036}{384.3}
\wT{3085.3}{378.3}{5.6}{To \textbf{12.11} Autopay Set}

%%%%%% 12.8
\wTtl{1440.7}{684}{12.8}{Setup Auto Pay: Credit/}{Debit Pay}
\wDbl{1442}{1558.6}{707}{1104}
\wT{1457.6}{719.3}{5.3}{EcoBill: On}\wChev{1540}{720}
\wHr{1451}{1550}{732.3}
\wT{1458}{743.3}{5.3}{Auto Pay: Off}\wChev{1540}{745.7}
\wHr{1451}{1550}{755.7}
\wAdj{1457.6}{767}
\wTog{1462}{797}\wT{1472}{797.5}{4}{ON}
\wL{1457.6}{813.7}{8.6}{5.5}{{Select your payment},{method:}}
\wRad{1460.6}{834.3}\wT{1466.7}{835}{4.4}{Pay With a Bank Account}
\wRadOn{1460.6}{850.3}\wL{1466.7}{850.7}{6.4}{4.4}{{Pay With a Credit Card or Debit},{Account}}
\wL{1457.6}{870.3}{9}{5.5}{{OK, let's set up your Credit/},{Debit Information:}}
\wFld{1457.6}{895.3}{1541.7}{905}{Cardholder Name}{}
\wFld{1457.6}{917.7}{1541.7}{927.7}{Card Number}{}
\wFld{1457.6}{940}{1492.8}{950}{Expiration Date}{mm}
\wFld{1506}{940}{1541.7}{950}{}{yyyy}
\wFld{1457.6}{961.7}{1541.7}{971.7}{Security Code}{}
\wT[dk]{1457}{978.3}{4.2}{\underline{\textbf{What's This?}}}\wHot{hoa}{1460.6}{977.7}
\wRad{1460.6}{994.3}\wL{1466.7}{995}{6.5}{4.2}{{Use Account Billing Address:},{1508 Pearl St.},{Boulder, CO 80302}}
\wRad{1460.6}{1022.3}\wT{1466.7}{1023.3}{4.2}{Use Alternate Billing Address}\wHot{hob2}{1460.6}{1022.3}
\draw[black!70,line width=.5pt] (1459.6,1040.3) circle (1.7);
\wT[dk]{1464}{1041}{3.9}{{\color{tgrey}I have read and accept the }\underline{\textbf{terms and}}}
\wT[dk]{1457.6}{1047.7}{3.9}{\underline{\textbf{conditions.}}}
\wBtnL{1457.6}{1058.3}{1543.8}{1074}{Confirm Changes}
\wBtnW{1457.6}{1078.3}{1543.8}{1094.3}{Cancel Changes}\wHot{hox}{1536.6}{1086.7}
\wL{1559.6}{1045.3}{6.5}{3.7}{{Inactive},{Button},{State}}
\wL{1537.6}{1122}{6.6}{3.7}{{To \textbf{12.12}},{Close},{Confirmation}}

%%%%%% 12.8.1 tip
\wTtl{1305}{936}{12.8.1}{Security Code: Open Tip}{}
\wModal{1306.7}{945}{1421.7}{1090.7}{1314.7}{954.3}{1413.7}{1060.3}
\wT{1321}{965.7}{5.6}{Your Security Code}
\wL{1321}{977.3}{6.5}{4.3}{{Your security code, known as a CVV},{Number, ("Card Verification Value")},{on your credit card or debit card is a},{3 digit number on VISA®, MasterCard®},{and Discover® branded credit and},{debit cards. On your American},{Express® branded credit or debit card},{it is a 4 digit numeric code.}}
\draw[black!80,line width=.7pt] (1321,1029.3) rectangle (1406,1052.7);
\draw[black!80,line width=.6pt] (1321,1029.3) -- (1331.3,1036) (1406,1029.3) -- (1396,1036) (1321,1052.7) -- (1331.3,1046) (1406,1052.7) -- (1396,1046);
\draw[black!80,line width=.7pt] (1331.3,1036) rectangle (1396,1046);
\wT[ctr]{1363.6}{1041}{4.4}{CVV IMAGE}
\wCloseX{1365}{1075.7}{7.6}

%%%%%% 12.9
\wTtl{1583.6}{684}{12.9}{Setup Auto Pay: Credit/}{Debit Pay: Alt. Address}
\wDbl{1585.6}{1701.4}{707}{1159}
\wT{1602.4}{719.3}{5.3}{EcoBill: On}\wChev{1683.6}{720}
\wHr{1594}{1693}{732.3}
\wT{1603}{743.3}{5.3}{Auto Pay: Off}\wChev{1683.6}{745.3}\wHot{hpe}{1683.6}{745.3}
\wHr{1594}{1693}{755.7}
\wAdj{1599.4}{767}
\wTog{1604.5}{797.7}\wT{1614.7}{798}{4}{Auto Pay ON}
\wL{1600}{813.7}{8.6}{5.5}{{Select your payment},{method:}}
\wRad{1604}{834.3}\wT{1610.6}{835}{4.4}{Pay With a Bank Account}
\wRadOn{1604}{850.3}\wL{1610.6}{850.7}{6.4}{4.4}{{Pay With a Credit Card or Debit},{Account}}
\wL{1601}{870.3}{9}{5.5}{{OK, let's set up your Credit/},{Debit Information:}}
\wFld{1601}{895.3}{1685.6}{905.7}{Cardholder Name}{}\wHot{hpf}{1608}{900}
\wFld{1601}{918.3}{1685.6}{928.3}{Card Number}{}
\wFld{1601}{940}{1636.6}{950.7}{Expiration Date}{mm}
\wFld{1649.4}{940}{1685.6}{950.7}{}{yyyy}
\wFld{1601}{961.7}{1685.6}{971.7}{Security Code}{}
\wT[dk]{1601}{978.3}{4.2}{\underline{\textbf{What's This?}}}
\wRad{1603.5}{990}\wL{1610}{991}{6.5}{4.2}{{Use Account Billing Address:},{1508 Pearl St.},{Boulder, CO 80302}}
\wRadOn{1603.5}{1018.3}\wT{1610}{1019}{4.2}{Use Alternate Billing Address:}
\wFld{1601}{1034}{1685}{1044}{Street Address}{5421 Maxwell Ave.}
\wFld{1601}{1054.3}{1643.3}{1064.3}{City}{Denver}
\wFld{1650}{1054.3}{1685.6}{1064.3}{State}{CO}
\wFld{1601}{1076}{1643.3}{1086}{Zip Code}{80391}
\draw[black!70,line width=.5pt] (1602.4,1096.3) circle (1.7);
\wT[dk]{1606.5}{1097}{3.9}{{\color{tgrey}I have read and accept the }\underline{\textbf{terms and}}}
\wT[dk]{1600.4}{1103.7}{3.9}{\underline{\textbf{conditions.}}}
\wHot{hpt}{1666}{1097.3}
\wBtnL{1598.4}{1111}{1685}{1126.7}{Confirm Changes}
\wBtnW{1598.4}{1130.7}{1685}{1146.7}{Cancel Changes}\wHot{hpx}{1608}{1139}
\wL{1707}{722.3}{8.7}{5.5}{{To: \textbf{12.12}},{Close},{Confirmation}}

%%%%%% 12.10
\wTtl{1745.8}{687}{12.10}{Setup Auto Pay: Credit/}{Debit Pay: Fields Complete}
\wDbl{1747.3}{1863}{710}{1159}
\wT{1764.7}{722.7}{5.3}{EcoBill: On}\wChev{1845.8}{723.3}
\wHr{1756}{1855}{735.3}
\wT{1765.2}{746.3}{5.3}{Auto Pay: Off}\wChev{1845.8}{748.7}\wHot{hqe}{1845.8}{748.7}
\wHr{1756}{1855}{756}
\wAdj{1761.6}{767}
\wTog{1766.7}{797.7}\wT{1776}{798.7}{4}{Auto Pay ON}
\wL{1761.6}{813.7}{8.6}{5.5}{{Select your payment},{method:}}
\wRad{1765.7}{832}\wT{1771.8}{832.3}{4.4}{Pay With a Bank Account}
\wRadOn{1765.7}{848.3}\wL{1771.8}{845.7}{6.4}{4.4}{{Pay With a Credit Card or Debit},{Account}}
\wL{1762.6}{865.7}{8.6}{5.5}{{OK, let's set up your Credit/},{Debit Information:}}
\wFld{1762.6}{888.7}{1847.3}{898.7}{Cardholder Name}{Fred Fredricks}
\wFld{1762.6}{911.7}{1847.3}{921.7}{Card Number}{1234 2134 4321 3214}
\wFld{1762.6}{933.7}{1798.4}{943.7}{Expiration Date}{10}
\wFld{1811}{933.7}{1847.3}{943.7}{}{2019}
\wFld{1762.6}{955.3}{1847.3}{965.3}{Security Code}{876}
\wT[dk]{1763}{976}{4.2}{\underline{\textbf{What's This?}}}
\wRad{1765.7}{991.7}\wL{1771.8}{992}{6.5}{4.2}{{Use Account Billing Address:},{1508 Pearl St.},{Boulder, CO 80302}}
\wRadOn{1765.7}{1016.3}\wT{1771.8}{1017}{4.2}{Use Alternate Billing Address:}
\wFld{1762.6}{1032}{1847.3}{1042}{Street Address}{5421 Maxwell Ave.}
\wFld{1762.6}{1052.3}{1806}{1062.3}{City}{Denver}
\wFld{1813.2}{1052.3}{1847.3}{1062.3}{State}{CO}
\wFld{1762.6}{1074}{1806}{1084}{Zip Code}{80391}
\draw[black!70,line width=.5pt] (1763.5,1094.3) rectangle (1766.5,1097.3);
\wT[dk]{1769}{1096.3}{3.9}{{\color{tgrey}I have read and accept the }\underline{\textbf{terms and}}}
\wT[dk]{1763}{1102.7}{3.9}{\underline{\textbf{conditions.}}}
\wBtnD{1760.6}{1111}{1847.3}{1126.7}{Confirm Changes}\wHot{hqc}{1837.7}{1119}
\wBtnW{1760.6}{1130.7}{1847.3}{1146.7}{Cancel Changes}\wHot{hqx}{1772.3}{1139}
\wL{1868.3}{726.7}{8.8}{5.5}{{To: \textbf{12.12}},{Close},{Confirmation}}
\wL{1714}{1127}{6.7}{3.7}{{To \textbf{12.12} Close},{Confirmation}}

%%%%%% Credit diamond
\wDia{dcred}{1953}{824}
\wL[ctr]{1951.5}{814}{11}{7.3}{{Credit Card},{Information},{Verifies?}}
\wT{2005}{817.7}{5}{Yes}
\wT{1958}{879.3}{5}{No}

%%%%%% 12.18.2
\wTtl{1907.6}{900}{12.18.2}{Credit card Information}{Error Alert}
\wModal{1907}{916.7}{2021.8}{1022}{1915.2}{927.3}{2014}{1015.7}
\wL{1923}{938.7}{8.5}{5.6}{{Sorry, there was a problem},{with your Credit Card},{information!}}
\wL{1923}{965}{8.7}{4.3}{{Please correct the errors that are},{indicated and try again.}}
\wBtnD{1921.3}{983.7}{2008}{1000}{OK}\wHot{hra}{1998.9}{992}
\wL{2037}{977.3}{9}{5.4}{{Returns to prior screen.  User inputs are retained,},{inline alerts define missing/incorrect information.}}

%%%%%% Mobile diamond 1
\wDia{dma}{756}{1075}
\wL[ctr]{758}{1070}{11}{7.5}{{Mobile},{Viewport?}}
\wT{809}{1069.3}{7}{No}
\wT{759.5}{1144}{7}{Yes}

%%%%%% 12.1.1-m
\wTtl{704}{1201}{12.1.1-m}{Mobile TOS: Opens in}{}
\wT{704}{1211}{8}{modal - No Download action}
\wModal{705}{1225}{819.6}{1421.8}{712.5}{1245}{811.4}{1391.4}
\wL{720}{1259.3}{8.2}{5.4}{{Ecobill},{Terms and Conditions}}
\wTosM{721}{1283.6}
\fill[black!65] (802.8,1280.7) rectangle (805.2,1294.3);
\wCloseX{760.7}{1406.8}{8}

%%%%%% 12.1.1-d
\wTtl{852.9}{1207}{12.1.1-d}{Desktop TOS: Opens in overlay modal,}{includes download action}
\fill[black!25] (855,1232.5) rectangle (1212,1295);
\fill[black!17] (855,1296.8) rectangle (1212,1331.4);
\fill[black!15] (855,1332.5) rectangle (1212,1552);
\draw[black!40,line width=1pt] (855,1264) -- (1212,1264) (855,1296) -- (1212,1296);
\draw[black!28,line width=.7pt] (855,1332) -- (1212,1332) (855,1480.4) -- (1212,1480.4);
\wT{892.5}{1249.6}{7}{Edit}
\wT[txt,text=black!38]{914}{1249}{9}{\textbf{ecobill}}
\draw[black!38,line width=1pt] (1187.5,1246) -- (1191,1249) -- (1187.5,1252);
\draw[black!38,line width=1pt] (1186,1278) -- (1189,1281.5) -- (1192,1278);
\draw[black!70,line width=.9pt] (1176.4,1426) -- (1185.7,1426) -- (1185.7,1440) -- (1176.4,1440);
\draw[black!60,line width=1pt] (1178,1456) -- (1181.5,1452.5);
\draw[black!20,line width=.7pt,fill=white] (890,1274) rectangle (1176.4,1532.5);
\wT[dk]{909.3}{1290.7}{8.6}{TERMS OF SERVICE}
\draw[black!8,line width=.7pt,fill=black!30] (1059.3,1283.6) rectangle (1133.2,1299.6);
\wT[ctw]{1096.2}{1292}{4.5}{\textbf{DOWNLOAD}}
\wT[ctr,text=black]{1160.7}{1289.3}{7}{\textbf{×}}
\draw[black!28,line width=.7pt] (909.3,1309.3) -- (1150.7,1309.3);
\wT{909.3}{1321.4}{4.6}{\textbf{ECOBILL CUSTOMER TERMS AND CONDITIONS}}
\wTos{909.3}{1341}
\fill[black!30] (1161.9,1318) rectangle (1163.9,1337);

%%%%%% Mobile diamond 2
\wDia{dmb}{1998}{1176}
\wL[ctr]{1998}{1172}{11}{7.5}{{Mobile},{Viewport?}}
\wT{2050}{1170}{7}{No}
\wT{2003.5}{1223}{7}{Yes}

%%%%%% 12.6.1-m
\wTtl{1959.5}{1263}{12.6.1-m}{Mobile TOS: Opens in}{}
\wT{1959.5}{1274}{8}{modal - No Download action}
\wModal{1959.5}{1287.7}{2075.4}{1485}{1967}{1307.7}{2067}{1454.3}
\wL{1974.6}{1322.3}{8.4}{5.4}{{Autopay},{Terms and Conditions}}
\wTosM{1975.5}{1346.7}
\fill[black!65] (2058.2,1344) rectangle (2060.6,1356.7);
\wCloseX{2016}{1470}{8}

%%%%%% 12.6.1-d
\wTtl{2186.5}{1133}{12.6.1-d}{Desktop TOS: Opens in overlay modal,}{includes download action}
\fill[black!25] (2188.4,1158.3) rectangle (2545.2,1221.7);
\fill[black!17] (2188.4,1222.7) rectangle (2545.2,1257.3);
\fill[black!15] (2188.4,1258.3) rectangle (2545.2,1478.3);
\draw[black!40,line width=1pt] (2188.4,1189.7) -- (2545.2,1189.7) (2188.4,1222) -- (2545.2,1222);
\draw[black!28,line width=.7pt] (2188.4,1257.8) -- (2545.2,1257.8) (2188.4,1406.4) -- (2545.2,1406.4);
\wT{2226}{1175.7}{7}{Edit}
\wT[txt,text=black!38]{2247}{1175}{9}{\textbf{ecobill}}
\draw[black!38,line width=1pt] (2519,1172) -- (2522.5,1175) -- (2519,1178);
\draw[black!38,line width=1pt] (2518,1204) -- (2521,1207.5) -- (2524,1204);
\draw[black!70,line width=.9pt] (2509.4,1351.7) -- (2518,1351.7) -- (2518,1365.7) -- (2509.4,1365.7);
\draw[black!60,line width=1pt] (2510,1382.5) -- (2513.5,1379);
\draw[black!20,line width=.7pt,fill=white] (2223.2,1200) rectangle (2509.4,1458.3);
\wT[dk]{2242}{1216.7}{8.6}{TERMS OF SERVICE}
\draw[black!8,line width=.7pt,fill=black!30] (2391.7,1209.3) rectangle (2466,1226);
\wT[ctw]{2428.8}{1218}{4.5}{\textbf{DOWNLOAD}}
\wT[ctr,text=black]{2493.5}{1215}{7}{\textbf{×}}
\draw[black!28,line width=.7pt] (2242,1235) -- (2483,1235);
\wT{2242}{1247.7}{4.6}{\textbf{AUTO PAY CUSTOMER TERMS AND CONDITIONS}}
\wTos{2242}{1267}
\fill[black!30] (2493.4,1244) rectangle (2495.4,1262.7);

%%%%%% UX Updates
\wT[ux]{2673}{1332}{42}{\textbf{UX Updates}}
\wT[ux]{2673}{1369}{26}{\wBul\textbf{Updated x/check UI patterns}}
\wT[ux]{2673}{1400}{26}{\wBul\textbf{Updated header text hierarchies in flows}}
\wT[ux]{2673}{1431.7}{26}{\wBul\textbf{Added Order Summary panel to section}}
\wT[ux]{2673}{1462.7}{26}{\wBul\textbf{Added accordion collapse behaviors to Bill and}}
\wT[ux]{2673}{1494}{26}{\textbf{Summary panels}}

%%%%%% free ends
\wC{ea}{424.4}{378}\wC{eb}{424.4}{831}\wC{ec}{690.5}{323.7}
\wC{ed}{598}{382.6}\wC{ee}{634}{465}\wC{ef}{634}{691.5}\wC{eg}{634}{724}
\wC{eh}{601}{805}\wC{ei}{622}{1278}
\wC{ej}{854.5}{381}\wC{ek}{725.6}{494.6}
\wC{el}{1352}{213}\wC{em}{1013.7}{334.7}\wC{en}{823}{521.6}
\wC{eo}{852}{608.5}\wC{ep}{877}{784}\wC{eq}{663.6}{803.6}\wC{er}{910}{744.6}
\wC{es}{756.3}{1030.7}
\wC{et}{1061.8}{712}\wC{eu}{1090.7}{526.5}\wC{ev}{892.4}{1021}
\wC{ew}{1152.3}{290}\wC{ex}{1172}{336.7}\wC{ey}{1294}{315.5}
\wC{ez}{1422}{232}\wC{fa}{1438.6}{366.8}\wC{fb}{1256}{336.7}
\wC{fc}{1265}{169}\wC{fd}{1265}{190}
\wC{fe}{1479}{165}\wC{ff}{1579}{351.4}\wC{fg}{1475}{510}\wC{fh}{1463}{669}
\wC{fi}{1518.7}{669}\wC{fj}{1743.7}{452.6}\wC{fk}{1605.4}{645}\wC{fl}{1658.5}{643}
\wC{fm}{1717.7}{216.6}\wC{fn}{1897.8}{327.7}
\wC{fo}{2092.8}{534.7}\wC{fp}{2187.5}{339.3}\wC{fq}{2340.8}{341.3}
\wC{fr}{2514.8}{337.3}\wC{fs}{2547}{363.3}\wC{ft}{2753.8}{382}\wC{fu}{2586.5}{529.3}
\wC{fv}{2959.4}{369.3}\wC{fw}{3139}{384.3}
\wC{fx}{1427}{978.3}\wC{fy}{1580.5}{1022.3}\wC{fz}{1738.7}{745.3}\wC{ga}{1957.7}{1176}
\wC{gb}{1898.4}{823.7}\wC{gc}{1908}{748.7}\wC{gd}{1719.3}{1139}
\wC{ge}{2141.7}{393.3}\wC{gf}{2105.5}{992}\wC{gg}{757.5}{1179}\wC{gh}{880.4}{1179}
\wC{gi}{2166.7}{1175.3}\wC{gj}{1999}{1247.3}\wC{gk}{2038}{331.6}\wC{gl}{1946.7}{422.6}\wC{gm}{1953}{891}
\wC{gn}{1989.6}{331.6}\wC{go}{1946.7}{374.4}\wC{gp}{1994.8}{824}\wC{gq}{1953}{866}
\wC{gr}{799}{1073.6}\wC{gs}{757.5}{1119.3}\wC{gt}{2039.6}{1175.3}\wC{gu}{1999}{1217.3}
\wC{gv}{1741}{900}\wC{gw}{1426.7}{978.3}

%%%%%% connectors
\draw[arr] (hca) -- (ea);
\draw[arr] (hcb) -- (267,409.8) -- (267,831) -- (eb);
\draw[arr] (hoe) -- (ec);
\draw[conn] (hob) -- (ed);
\draw[dashb] (hol) -- (ee);
\draw[dashb] (hor) -- (ef);
\draw[dashb] (hot) -- (eg);
\draw[conn] (hoo) -- (eh);
\draw[conn] (how) -- (ei);
\draw[dashr] (410,644) -- (449,644);
\draw[dashr] (410,680.7) -- (449,680.7);
\draw[dashr] (410,713.3) -- (449,713.3);
\draw[dashr] (410,872.3) -- (451,872.3);
\draw[arr] (haa) -- (ej);
\draw[arr] (hab) -- (ek);
\draw[arr] (hbe) -- (985,329.4) -- (985,213) -- (el);
\draw[arr] (hbc) -- (990.7,502.4) -- (990.7,334.7) -- (em);
\draw[conn] (hbx) -- (en);
\draw[conn] (hse) -- (eo);
\draw[conn] (hsc) -- (ep);
\draw[conn] (hsx) -- (eq);
\draw[arr] (hsp) -- (er);
\draw[arr] (hst) -- (es);
\draw[conn] (hte) -- (et);
\draw[arr] (htc) -- (1090.7,1001.3) -- (eu);
\draw[conn] (htx) -- (ev);
\draw[arr] (hma) -- (1140,337.6) -- (1140,290) -- (ew);
\draw[arr] (hmb) -- (1172,482.9) -- (ex);
\draw[arr] (hce) -- (ey);
\draw[arr] (hde) -- (1422,290.5) -- (ez);
\draw[arr] (hdo) -- (fa);
\draw[arr] (hdx) -- (1256,409) -- (fb);
\draw[dashb] (1385,393) -- (1424,393);
\draw[conn] (hna) -- (fc);
\draw[conn] (hnb) -- (fd);
\draw[arr] (hee) -- (1567,315) -- (1567,165) -- (fe);
\draw[arr] (heb) -- (1563,396) -- (1563,351.4) -- (ff);
\draw[conn] (hex) -- (fg);
\draw[arr] (hec) -- (fh);
\draw[conn] (hfe) -- (1717.7,315) -- (1717.7,165) -- (1567,165);
\draw[arr] (hfc) -- (1571.7,412) -- (1571.7,503) -- (1518.7,503) -- (fi);
\draw[arr] (hfk) -- (fj);
\draw[conn] (hfx) -- (fk);
\draw[conn] (hft) -- (fl);
\draw[conn] (hge) -- (1882,315) -- (1882,216.6) -- (fm);
\draw[conn] (hgx) -- (1718.7,592.6) -- (1718.7,216.6);
\draw[arr] (hgc) -- (1868,572.5) -- (1868,327.7) -- (fn);
\draw[arr] (gn) -- (gk);
\draw[arr] (go) -- (gl);
\draw[conn] (hha) -- (fo);
\draw[arr] (hia) -- (2171.5,355) -- (2171.5,339.3) -- (fp);
\draw[arr] (hja) -- (fq);
\draw[conn] (hka) -- (fr);
\draw[arr] (hkb) -- (fs);
\draw[arr] (hla) -- (ft);
\draw[conn] (hlx) -- (fu);
\draw[dashb] (2541.7,459.3) -- (2576,459.3);
\draw[arr] (hma2) -- (fv);
\draw[conn] (hna2) -- (fw);
\draw[arr] (hoa) -- (fx);
\draw[arr] (hob2) -- (fy);
\draw[conn] (hox) -- (1536.6,1139) -- (hpx);
\draw[dashb] (1530.5,1067.3) -- (1569.8,1067.3);
\draw[dashb] (hpe) -- (fz);
\draw[conn] (hpt) -- (1666,1176) -- (ga);
\draw[arr] (hqc) -- (1886,1119) -- (1886,823.7) -- (gb);
\draw[dashb] (hqe) -- (gc);
\draw[conn] (hqx) -- (gd);
\draw[arr] (hpf) -- (gv);
\draw[arr] (gp) -- (2141.7,824) -- (ge);
\draw[arr] (gq) -- (gm);
\draw[conn] (hra) -- (gf);
\draw[arr] (gs) -- (gg);
\draw[arr] (gr) -- (880.4,1073.6) -- (gh);
\draw[arr] (gt) -- (gi);
\draw[arr] (gu) -- (gj);
\end{tikzpicture}
\end{document}
